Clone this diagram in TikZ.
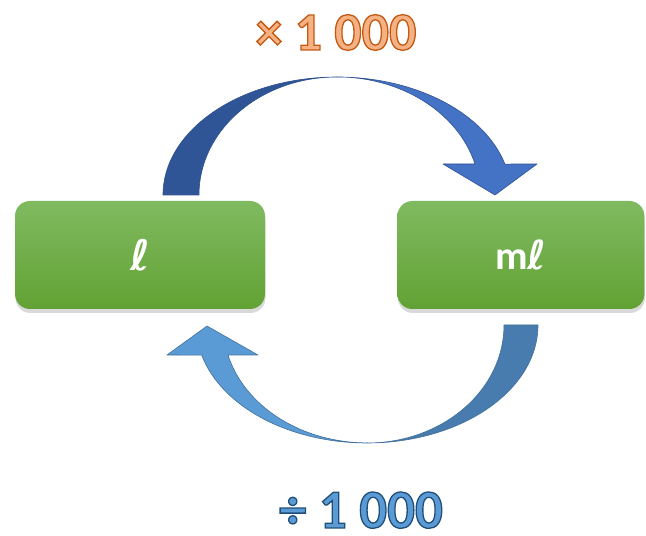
\documentclass[tikz,border=0pt]{standalone}
\usepackage{fontspec}
\setmainfont{Carlito}
\newfontfamily\ellfont{DejaVu Sans}
\usetikzlibrary{positioning,shadows}
\definecolor{boxtop}{RGB}{128,186,96}
\definecolor{boxbot}{RGB}{98,162,52}
\definecolor{updark}{RGB}{47,85,151}
\definecolor{uplight}{RGB}{68,114,196}
\definecolor{uprim}{RGB}{47,82,143}
\definecolor{downdark}{RGB}{72,124,174}
\definecolor{downlight}{RGB}{91,155,213}
\definecolor{downrim}{RGB}{65,113,156}
\definecolor{mulfill}{RGB}{244,177,131}
\definecolor{divfill}{RGB}{91,155,213}
% fill and stroke the glyphs: #1 fill colour, #2 stroke rgb, #3 width, #4 text
\newcommand{\outlined}[4]{{\color{#1}\special{pdf:code #2 RG #3 w 2 Tr}#4\special{pdf:code 0 Tr}}}
\newcommand{\litre}{{\ellfont\bfseries\itshape ℓ}}

\begin{document}
\begin{tikzpicture}[x=1pt,y=1pt,
		unitbox/.style={minimum width=250pt,minimum height=108pt,rounded corners=15pt,
			top color=boxtop,bottom color=boxbot,text=white,
			drop shadow={shadow xshift=0.5pt,shadow yshift=-4pt,opacity=0.3}},
		factor/.style={anchor=base,inner sep=0pt,text depth=0pt},
		bandrim/.style={line width=0.6pt,line join=round}]
			\useasboundingbox (0,0) rectangle (646,536);
			% units
			\node[unitbox] (liter) at (140,281) {\fontsize{42}{48}\selectfont\litre};
			\node[unitbox,minimum width=247pt,right=132pt of liter] (milli) {\fontsize{40}{46}\selectfont\bfseries m\litre};
			% top arrow
			\fill[updark,draw=uprim,bandrim] (163,341) arc[start angle=180,end angle=90,x radius=174,y radius=118]
				arc[start angle=90,end angle=180,x radius=138,y radius=118] -- cycle;
			\fill[uplight,draw=uprim,bandrim] (337,459) arc[start angle=90,end angle=15.2,x radius=174,y radius=118]
				-- (537,372) -- (495,341) -- (443,372) -- (475,372)
				arc[start angle=15.2,end angle=90,x radius=143,y radius=118] -- cycle;
			% bottom arrow
			\fill[downdark,draw=downrim,bandrim] (538,211) arc[start angle=0,end angle=-90,x radius=171,y radius=118]
				arc[start angle=-90,end angle=0,x radius=137,y radius=118] -- cycle;
			\fill[downlight,draw=downrim,bandrim] (367,93) arc[start angle=270,end angle=194.8,x radius=171,y radius=118]
				-- (167,181) -- (207,210) -- (258,181) -- (228,181)
				arc[start angle=194.8,end angle=270,x radius=144,y radius=118] -- cycle;
			% factors
			\node[factor] (times) at (336,486) {\fontsize{54}{60}\selectfont\bfseries\outlined{mulfill}{0.77 0.35 0.07}{1.3}{× 1 000}};
			\node[factor] (divide) at (361,8) {\fontsize{55}{61}\selectfont\bfseries\outlined{divfill}{0.12 0.31 0.47}{1.3}{÷ 1 000}};
		\end{tikzpicture}
\end{document}
